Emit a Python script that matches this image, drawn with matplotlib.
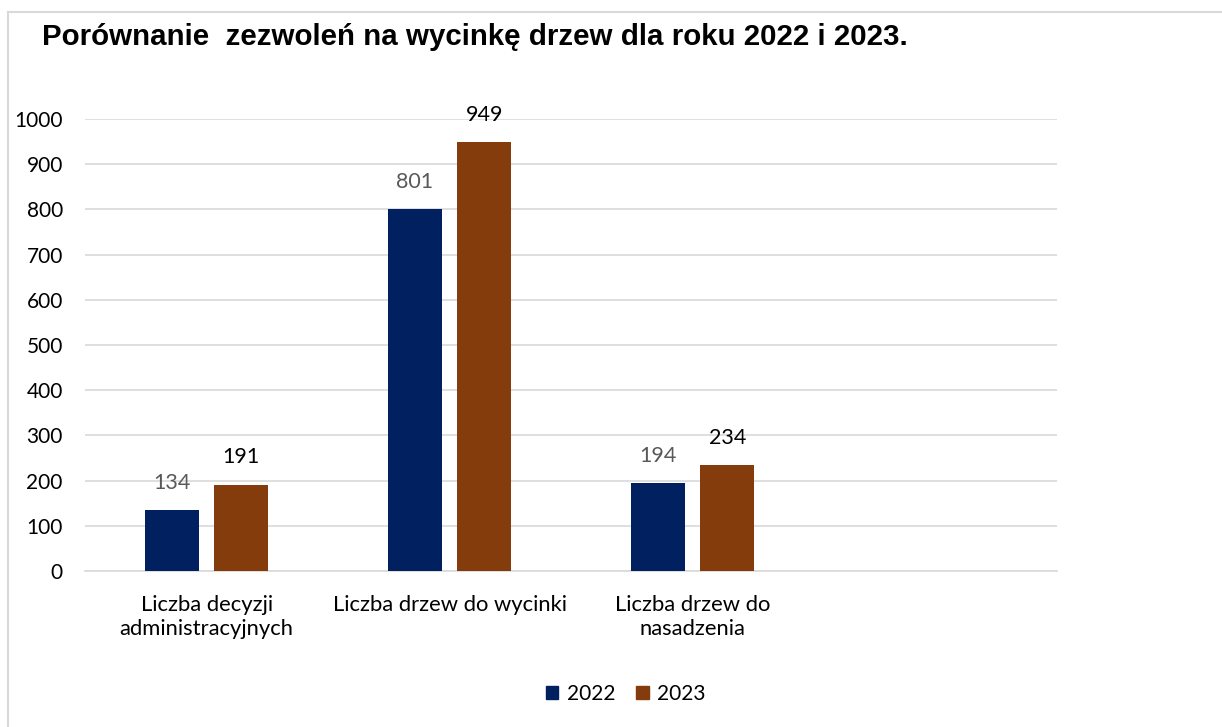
import matplotlib.pyplot as plt
import numpy as np
from matplotlib.lines import Line2D
from matplotlib.patches import Patch

categories = ["Liczba decyzji\nadministracyjnych", "Liczba drzew do wycinki", "Liczba drzew do\nnasadzenia", ""]
years = ["2022", "2023"]
values_2022 = [134, 801, 194]
values_2023 = [191, 949, 234]
yticks = list(range(0, 1001, 100))

col_2022 = "#002060"
col_2023 = "#843C0C"

plt.rcParams['font.family'] = ['Lato', 'DejaVu Sans']

fig = plt.figure(figsize=(12.22, 7.27), dpi=100)
ax = fig.add_axes([0.0696, 0.2146, 0.7955, 0.6217])

x = np.arange(len(values_2022))
w = 0.223
off = (w + 0.062) / 2
b1 = ax.bar(x - off, values_2022, w, color=col_2022, zorder=3)
b2 = ax.bar(x + off, values_2023, w, color=col_2023, zorder=3)

for rect, v in zip(b1, values_2022):
    ax.text(rect.get_x() + rect.get_width() / 2, v + 38, str(v), ha='center', va='bottom',
            fontsize=15.5, color='#595959')
for rect, v in zip(b2, values_2023):
    ax.text(rect.get_x() + rect.get_width() / 2, v + 38, str(v), ha='center', va='bottom',
            fontsize=15.5, color='black')

ax.set_xlim(-0.5, len(categories) - 0.5)
ax.set_ylim(0, 1000)
ax.set_yticks(yticks)
ax.set_xticks(range(len(categories)))
ax.set_xticklabels(categories, fontsize=15.8, linespacing=1.25)
ax.tick_params(axis='y', labelsize=15, length=0, pad=16)
ax.tick_params(axis='x', length=0, pad=17)
ax.grid(axis='y', color='#D9D9D9', linewidth=1.2, zorder=0)
for s in ['top', 'right', 'left']:
    ax.spines[s].set_visible(False)
ax.spines['bottom'].set_color('#D9D9D9')
ax.spines['bottom'].set_linewidth(1.2)

fig.text(0.0344, 0.949, "Porównanie  zezwoleń na wycinkę drzew dla roku 2022 i 2023.",
         fontsize=21.25, fontweight='bold', family='Liberation Sans', ha='left', va='center')

handles = [Patch(color=col_2022), Patch(color=col_2023)]
fig.legend(handles, years, loc='center', bbox_to_anchor=(0.512, 0.046), ncol=2, frameon=False,
           fontsize=15, handlelength=0.6, handleheight=0.6, handletextpad=0.4, columnspacing=1.0)

# chart border (left and top edges visible)
fig.add_artist(Line2D([0.0065, 0.0065], [0, 0.9835], color='#D9D9D9', linewidth=1.5))
fig.add_artist(Line2D([0.0065, 1], [0.9835, 0.9835], color='#D9D9D9', linewidth=1.5))

fig.savefig("out.png", dpi=100)
